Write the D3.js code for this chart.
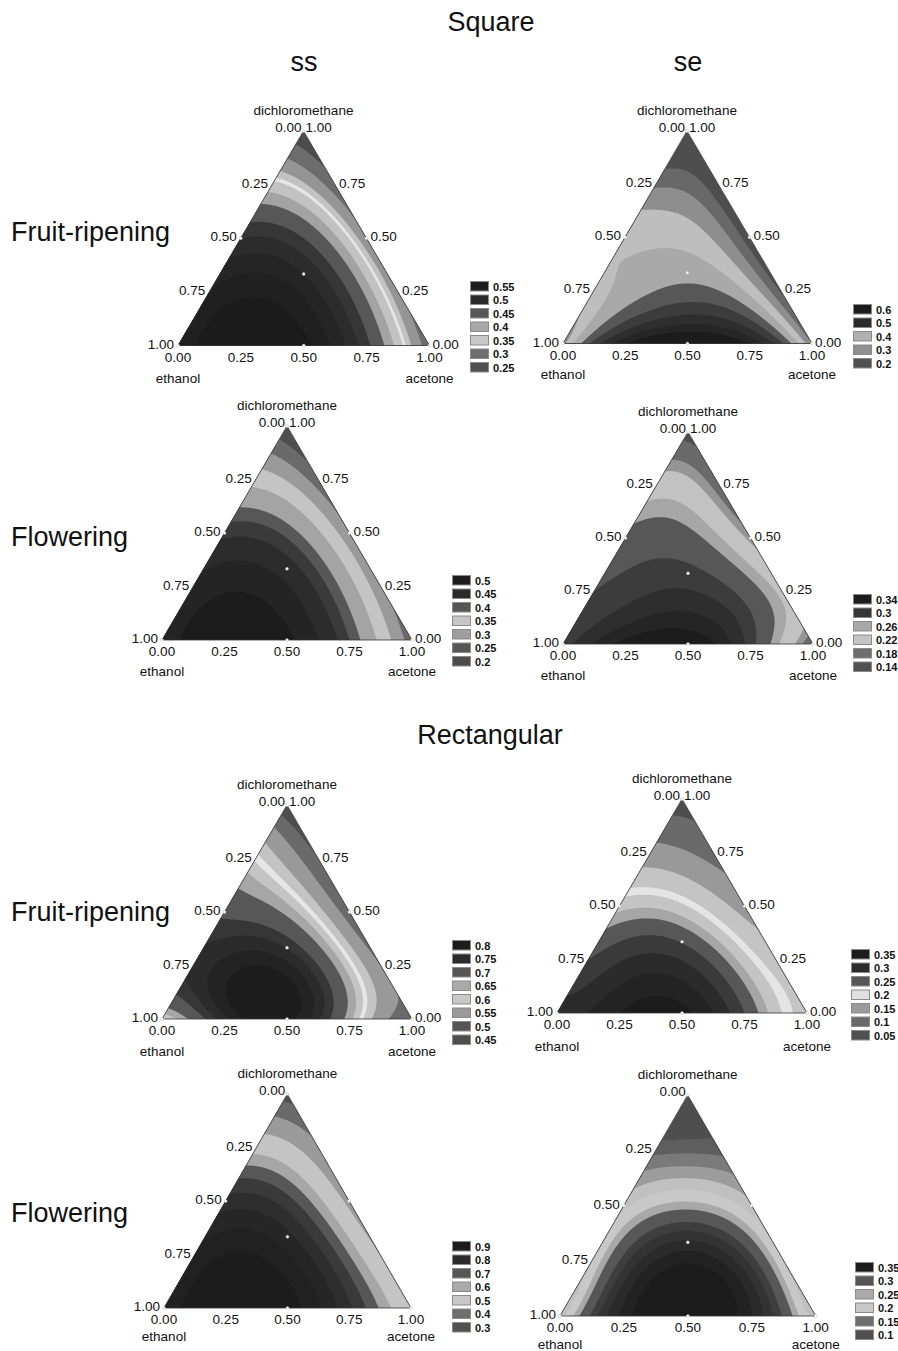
<!DOCTYPE html>
<html><head><meta charset="utf-8">
<script src="https://cdn.jsdelivr.net/npm/d3@7"></script>
<style>body{margin:0;background:#fff} text{font-family:"Liberation Sans",Arial,sans-serif;fill:#111}</style>
</head><body><script>
// ---------- DATA ----------
// Lattice order (ethanol, acetone, dichloromethane) in quarters:
const lattice = [[4,0,0],[3,1,0],[2,2,0],[1,3,0],[0,4,0],[3,0,1],[2,1,1],[1,2,1],[0,3,1],[2,0,2],[1,1,2],[0,2,2],[1,0,3],[0,1,3],[0,0,4]];

const sqSsFruitGrid   = [0.56,0.63,0.60,0.48,0.27, 0.56,0.58,0.50,0.31, 0.50,0.47,0.31, 0.38,0.27, 0.20];
const sqSsFruitLevels = [0.25,0.30,0.34,0.36,0.37,0.40,0.43,0.47,0.50,0.53,0.56,0.59];
const sqSsFruitLegend = ["0.55","0.5","0.45","0.4","0.35","0.3","0.25"];

const sqSeFruitGrid   = [0.28,0.60,0.70,0.60,0.25, 0.33,0.40,0.40,0.19, 0.34,0.33,0.16, 0.24,0.15, 0.12];
const sqSeFruitLevels = [0.20,0.25,0.30,0.35,0.40,0.45,0.50,0.55,0.60];
const sqSeFruitLegend = ["0.6","0.5","0.4","0.3","0.2"];

const sqSsFlowerGrid   = [0.51,0.58,0.55,0.43,0.22, 0.51,0.53,0.45,0.26, 0.45,0.42,0.26, 0.33,0.22, 0.15];
const sqSsFlowerLevels = [0.20,0.25,0.30,0.35,0.40,0.43,0.46,0.50,0.54];
const sqSsFlowerLegend = ["0.5","0.45","0.4","0.35","0.3","0.25","0.2"];

const sqSeFlowerGrid   = [0.30,0.36,0.37,0.30,0.15, 0.29,0.31,0.30,0.23, 0.27,0.27,0.19, 0.22,0.16, 0.12];
const sqSeFlowerLevels = [0.14,0.18,0.20,0.24,0.26,0.29,0.31,0.33,0.35];
const sqSeFlowerLegend = ["0.34","0.3","0.26","0.22","0.18","0.14"];

const rcSsFruitGrid   = [0.64,0.80,0.85,0.68,0.52, 0.79,0.84,0.75,0.55, 0.74,0.69,0.52, 0.64,0.50, 0.45];
const rcSsFruitLevels = [0.50,0.55,0.60,0.63,0.645,0.67,0.70,0.75,0.78,0.81,0.84];
const rcSsFruitLegend = ["0.8","0.75","0.7","0.65","0.6","0.55","0.5","0.45"];

const rcSeFruitGrid   = [0.33,0.37,0.38,0.28,0.18, 0.28,0.32,0.27,0.17, 0.22,0.21,0.13, 0.12,0.08, 0.03];
const rcSeFruitLevels = [0.05,0.10,0.15,0.19,0.205,0.23,0.25,0.28,0.31,0.34,0.37];
const rcSeFruitLegend = ["0.35","0.3","0.25","0.2","0.15","0.1","0.05"];

const rcSsFlowerGrid   = [0.85,0.97,0.93,0.76,0.52, 0.86,0.90,0.77,0.50, 0.77,0.72,0.47, 0.57,0.42, 0.25];
const rcSsFlowerLevels = [0.30,0.40,0.50,0.60,0.65,0.70,0.75,0.80,0.85,0.90];
const rcSsFlowerLegend = ["0.9","0.8","0.7","0.6","0.5","0.4","0.3"];

const rcSeFlowerGrid   = [0.20,0.37,0.41,0.36,0.19, 0.22,0.36,0.36,0.22, 0.21,0.26,0.20, 0.12,0.12, 0.05];
const rcSeFlowerLevels = [0.10,0.13,0.16,0.19,0.22,0.25,0.27,0.30,0.32,0.34,0.36,0.38];
const rcSeFlowerLegend = ["0.35","0.3","0.25","0.2","0.15","0.1"];

const leftTicks   = ["0.25","0.50","0.75","1.00"];
const rightTicks  = ["0.75","0.50","0.25","0.00"];
const bottomTicks = ["0.00","0.25","0.50","0.75","1.00"];
const componentNames = ["ethanol","acetone","dichloromethane"];
const titles = ["Square","Rectangular"];
const columns = ["ss","se"];
const rows = ["Fruit-ripening","Flowering"];

// ---------- STYLES ----------
const fillsP1 = ["#4c4c4c","#6c6c6c","#959595","#c2c2c2","#e6e6e6","#c2c2c2","#a3a3a3","#575757","#363636","#2c2c2c","#252525","#202020","#1b1b1b"];
const fillsP2 = ["#4e4e4e","#686868","#8e8e8e","#bebebe","#a9a9a9","#575757","#3c3c3c","#2e2e2e","#262626","#1c1c1c"];
const fillsP3 = ["#4e4e4e","#6a6a6a","#9a9a9a","#c4c4c4","#a4a4a4","#575757","#3a3a3a","#2c2c2c","#242424","#1c1c1c"];
const fillsP4 = ["#4e4e4e","#6a6a6a","#959595","#c2c2c2","#a6a6a6","#575757","#3c3c3c","#2e2e2e","#252525","#1c1c1c"];
const fillsP5 = ["#4e4e4e","#6a6a6a","#999999","#c4c4c4","#e6e6e6","#c4c4c4","#a6a6a6","#575757","#363636","#2b2b2b","#232323","#1c1c1c"];
const fillsP6 = ["#4e4e4e","#6a6a6a","#999999","#c4c4c4","#e4e4e4","#c4c4c4","#a6a6a6","#575757","#3a3a3a","#2b2b2b","#232323","#1c1c1c"];
const fillsP7 = ["#4e4e4e","#6a6a6a","#9a9a9a","#c4c4c4","#a6a6a6","#575757","#3a3a3a","#2e2e2e","#262626","#212121","#1c1c1c"];
const fillsP8 = ["#4e4e4e","#5e5e5e","#7a7a7a","#9c9c9c","#c0c0c0","#c8c8c8","#a8a8a8","#575757","#3e3e3e","#333333","#2a2a2a","#222222","#1c1c1c"];

const legP1 = ["#1c1c1c","#2b2b2b","#565656","#a8a8a8","#c8c8c8","#6e6e6e","#505050"];
const legP2 = ["#1c1c1c","#2b2b2b","#b0b0b0","#909090","#505050"];
const legP3 = ["#1c1c1c","#2b2b2b","#555555","#c6c6c6","#9e9e9e","#565656","#4c4c4c"];
const legP4 = ["#1c1c1c","#363636","#a8a8a8","#c4c4c4","#6e6e6e","#505050"];
const legP5 = ["#1c1c1c","#2b2b2b","#565656","#aaaaaa","#c8c8c8","#999999","#555555","#4e4e4e"];
const legP6 = ["#1c1c1c","#2b2b2b","#565656","#e0e0e0","#9a9a9a","#6a6a6a","#505050"];
const legP7 = ["#1c1c1c","#2b2b2b","#565656","#aaaaaa","#c8c8c8","#6e6e6e","#505050"];
const legP8 = ["#1c1c1c","#555555","#aaaaaa","#c8c8c8","#6e6e6e","#505050"];

const panels = [
  {grid:sqSsFruitGrid, levels:sqSsFruitLevels, legend:sqSsFruitLegend, fills:fillsP1, leg:legP1, L:[178,345.5], R:[429.5,345.5], T:[303.5,131], lg:[470,281], full:true, nameDy:37},
  {grid:sqSeFruitGrid, levels:sqSeFruitLevels, legend:sqSeFruitLegend, fills:fillsP2, leg:legP2, L:[563,343.5], R:[812,343.5], T:[687,131], lg:[853,304], full:true, nameDy:35},
  {grid:sqSsFlowerGrid, levels:sqSsFlowerLevels, legend:sqSsFlowerLegend, fills:fillsP3, leg:legP3, L:[162,640], R:[412,640], T:[287,426], lg:[452,575], full:true, nameDy:36},
  {grid:sqSeFlowerGrid, levels:sqSeFlowerLevels, legend:sqSeFlowerLegend, fills:fillsP4, leg:legP4, L:[563,644], R:[813,644], T:[688,432], lg:[853,594], full:true, nameDy:36},
  {grid:rcSsFruitGrid, levels:rcSsFruitLevels, legend:rcSsFruitLegend, fills:fillsP5, leg:legP5, L:[162,1019], R:[412,1019], T:[287,805], lg:[452,940], full:true, nameDy:37},
  {grid:rcSeFruitGrid, levels:rcSeFruitLevels, legend:rcSeFruitLegend, fills:fillsP6, leg:legP6, L:[557,1013], R:[807,1013], T:[682,799], lg:[851,949], full:true, nameDy:38},
  {grid:rcSsFlowerGrid, levels:rcSsFlowerLevels, legend:rcSsFlowerLegend, fills:fillsP7, leg:legP7, L:[164,1308], R:[411,1308], T:[287.3,1094], lg:[452,1241], full:false, nameDy:33},
  {grid:rcSeFlowerGrid, levels:rcSeFlowerLevels, legend:rcSeFlowerLegend, fills:fillsP8, leg:legP8, L:[560,1316], R:[815.7,1316], T:[687.7,1095], lg:[855,1262], full:false, nameDy:33}
];

// ---------- DRAW ----------
const W = 898, H = 1351;
const svg = d3.select("body").append("svg").attr("width", W).attr("height", H);
svg.append("rect").attr("width", W).attr("height", H).attr("fill", "#fff");
const defs = svg.append("defs");

function P(i, x) { let p = 1; for (let m = 0; m < i; m++) p *= (4 * x - m) / (m + 1); return p; }
function surface(grid, la, lb, lc) {
  let s = 0;
  for (let k = 0; k < lattice.length; k++) {
    const [i, j, q] = lattice[k];
    s += grid[k] * P(i, la) * P(j, lb) * P(q, lc);
  }
  return s;
}

panels.forEach((p, k) => {
  const [Lx, Ly] = p.L, [Rx, Ry] = p.R, [Tx, Ty] = p.T;
  const den = (Ry - Ty) * (Lx - Tx) + (Tx - Rx) * (Ly - Ty);
  const x0 = Math.floor(Lx) - 3, x1 = Math.ceil(Rx) + 3, y0 = Math.floor(Ty) - 3, y1 = Math.ceil(Ly) + 3;
  const nx = x1 - x0 + 1, ny = y1 - y0 + 1;
  const values = new Float64Array(nx * ny);
  for (let j = 0; j < ny; j++) for (let i = 0; i < nx; i++) {
    const px = x0 + i, py = y0 + j;
    const la = ((Ry - Ty) * (px - Tx) + (Tx - Rx) * (py - Ty)) / den;
    const lb = ((Ty - Ly) * (px - Tx) + (Lx - Tx) * (py - Ty)) / den;
    const lc = 1 - la - lb;
    values[j * nx + i] = surface(p.grid, la, lb, lc);
  }
  const tri = `${Lx},${Ly} ${Rx},${Ry} ${Tx},${Ty}`;
  defs.append("clipPath").attr("id", "clip" + k).append("polygon").attr("points", tri);
  const g = svg.append("g");
  const gc = g.append("g").attr("clip-path", `url(#clip${k})`);
  gc.append("polygon").attr("points", tri).attr("fill", p.fills[0]);
  const contours = d3.contours().size([nx, ny]).thresholds(p.levels)(values);
  gc.append("g").attr("transform", `translate(${x0 - 0.5},${y0 - 0.5})`)
    .selectAll("path").data(contours).join("path")
    .attr("d", d3.geoPath()).attr("fill", (d, i) => p.fills[i + 1]);
  g.append("polygon").attr("points", tri).attr("fill", "none").attr("stroke", "#333").attr("stroke-width", 0.8);

  const leftX = d3.scaleLinear().domain([0, 1]).range([Tx, Lx]);
  const leftY = d3.scaleLinear().domain([0, 1]).range([Ty, Ly]);
  const rightX = d3.scaleLinear().domain([0, 1]).range([Tx, Rx]);
  const rightY = d3.scaleLinear().domain([0, 1]).range([Ty, Ry]);
  const botX = d3.scaleLinear().domain([0, 1]).range([Lx, Rx]);

  const dpts = [[Lx, Ly], [Rx, Ry], [Tx, Ty], [botX(0.5), Ly], [leftX(0.5), leftY(0.5)], [rightX(0.5), rightY(0.5)], [(Lx + Rx + Tx) / 3, (Ly + Ry + Ty) / 3]];
  g.selectAll("circle").data(dpts).join("circle").attr("cx", d => d[0]).attr("cy", d => d[1])
    .attr("r", 1.5).attr("fill", "#fff").attr("stroke", "#aaa").attr("stroke-width", 0.4);

  const fs = 13.5;
  const lab = (x, y, t, anchor) => g.append("text").attr("x", x).attr("y", y).attr("text-anchor", anchor).attr("font-size", fs).text(t);
  lab(Tx, Ty - 16, componentNames[2], "middle");
  lab(Tx - 2, Ty + 1, "0.00", "end");
  if (p.full) lab(Tx + 2, Ty + 1, "1.00", "start");
  leftTicks.forEach((t, i) => { const f = (i + 1) / 4; lab(leftX(f) - 4, leftY(f) + 3, t, "end"); });
  if (p.full) rightTicks.forEach((t, i) => { const f = (i + 1) / 4; lab(rightX(f) + (i === 3 ? 3 : 4), rightY(f) + 3, t, "start"); });
  bottomTicks.forEach((t, i) => lab(botX(i / 4), Ly + 16, t, "middle"));
  lab(Lx, Ly + p.nameDy, componentNames[0], "middle");
  lab(Rx, Ry + p.nameDy, componentNames[1], "middle");

  const lgG = g.append("g").attr("transform", `translate(${p.lg[0]},${p.lg[1]})`);
  p.legend.forEach((t, i) => {
    lgG.append("rect").attr("x", 0.5).attr("y", i * 13.5 + 0.5).attr("width", 18).attr("height", 9.5)
      .attr("fill", p.leg[i]).attr("stroke", "#8a8a8a").attr("stroke-width", 1);
    lgG.append("text").attr("x", 23).attr("y", i * 13.5 + 9.5).attr("font-size", 11).attr("font-weight", "bold").text(t);
  });
});

const big = 27;
svg.append("text").attr("x", 491).attr("y", 31).attr("text-anchor", "middle").attr("font-size", big).text(titles[0]);
svg.append("text").attr("x", 490).attr("y", 744).attr("text-anchor", "middle").attr("font-size", big).text(titles[1]);
svg.append("text").attr("x", 304).attr("y", 71).attr("text-anchor", "middle").attr("font-size", big).text(columns[0]);
svg.append("text").attr("x", 688).attr("y", 71).attr("text-anchor", "middle").attr("font-size", big).text(columns[1]);
[[241, 0], [546, 1], [921, 0], [1222, 1]].forEach(([y, r]) =>
  svg.append("text").attr("x", 11).attr("y", y).attr("font-size", big).text(rows[r]));
</script></body></html>
